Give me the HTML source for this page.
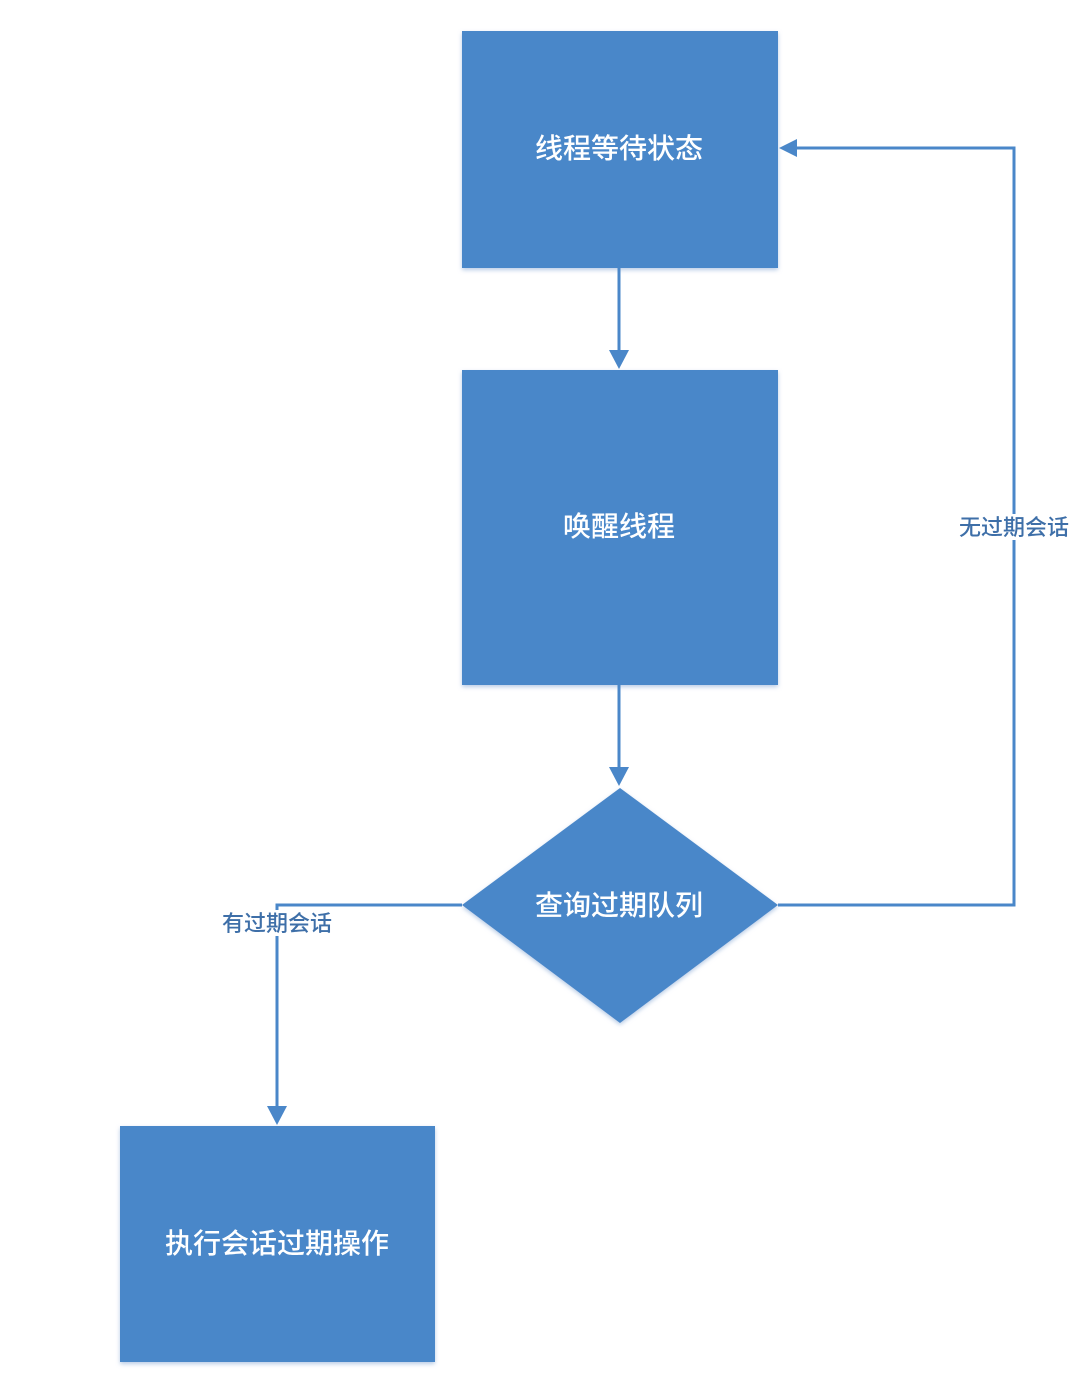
<!DOCTYPE html>
<html><head><meta charset="utf-8"><style>
html,body{margin:0;padding:0;background:#fff;width:1080px;height:1377px;overflow:hidden}
text{font-family:"Liberation Sans","Noto Sans CJK SC",sans-serif}
</style></head><body>
<svg width="1080" height="1377" viewBox="0 0 1080 1377" xmlns="http://www.w3.org/2000/svg">
<defs>
<filter id="sh" x="-10%" y="-10%" width="120%" height="120%"><feDropShadow dx="0" dy="2" stdDeviation="2" flood-color="#9ab6dc" flood-opacity="0.7"/></filter>
</defs>
<g fill="#4a87c9" filter="url(#sh)">
<rect x="462" y="31" width="316" height="237"/>
<rect x="462" y="370" width="316" height="315"/>
<polygon points="620,788 778,905 620,1023 462,905"/>
<rect x="120" y="1126" width="315" height="236"/>
</g>
<g stroke="#4a87c9" stroke-width="3" fill="none">
<line x1="619" y1="268" x2="619" y2="352"/>
<line x1="619" y1="685" x2="619" y2="768"/>
<polyline points="778,905 1014,905 1014,148 796,148"/>
<polyline points="462,905 277,905 277,1108"/>
</g>
<g fill="#4a87c9">
<polygon points="609,350 629,350 619,369"/>
<polygon points="609,767 629,767 619,786"/>
<polygon points="779,148 797,139 797,157"/>
<polygon points="267,1106 287,1106 277,1125"/>
</g>
<rect x="955" y="514" width="120" height="26" fill="#fff"/>
<rect x="216" y="910" width="122" height="26" fill="#fff"/>
<g fill="#fff" font-size="28" text-anchor="middle" font-weight="500">
<text x="619" y="158">线程等待状态</text>
<text x="619" y="536">唤醒线程</text>
<text x="619" y="915">查询过期队列</text>
<text x="277" y="1253">执行会话过期操作</text>
</g>
<g fill="#3e6fa8" font-size="22" text-anchor="middle" font-weight="500">
<text x="1014" y="535">无过期会话</text>
<text x="277" y="931">有过期会话</text>
</g>
</svg>
</body></html>
